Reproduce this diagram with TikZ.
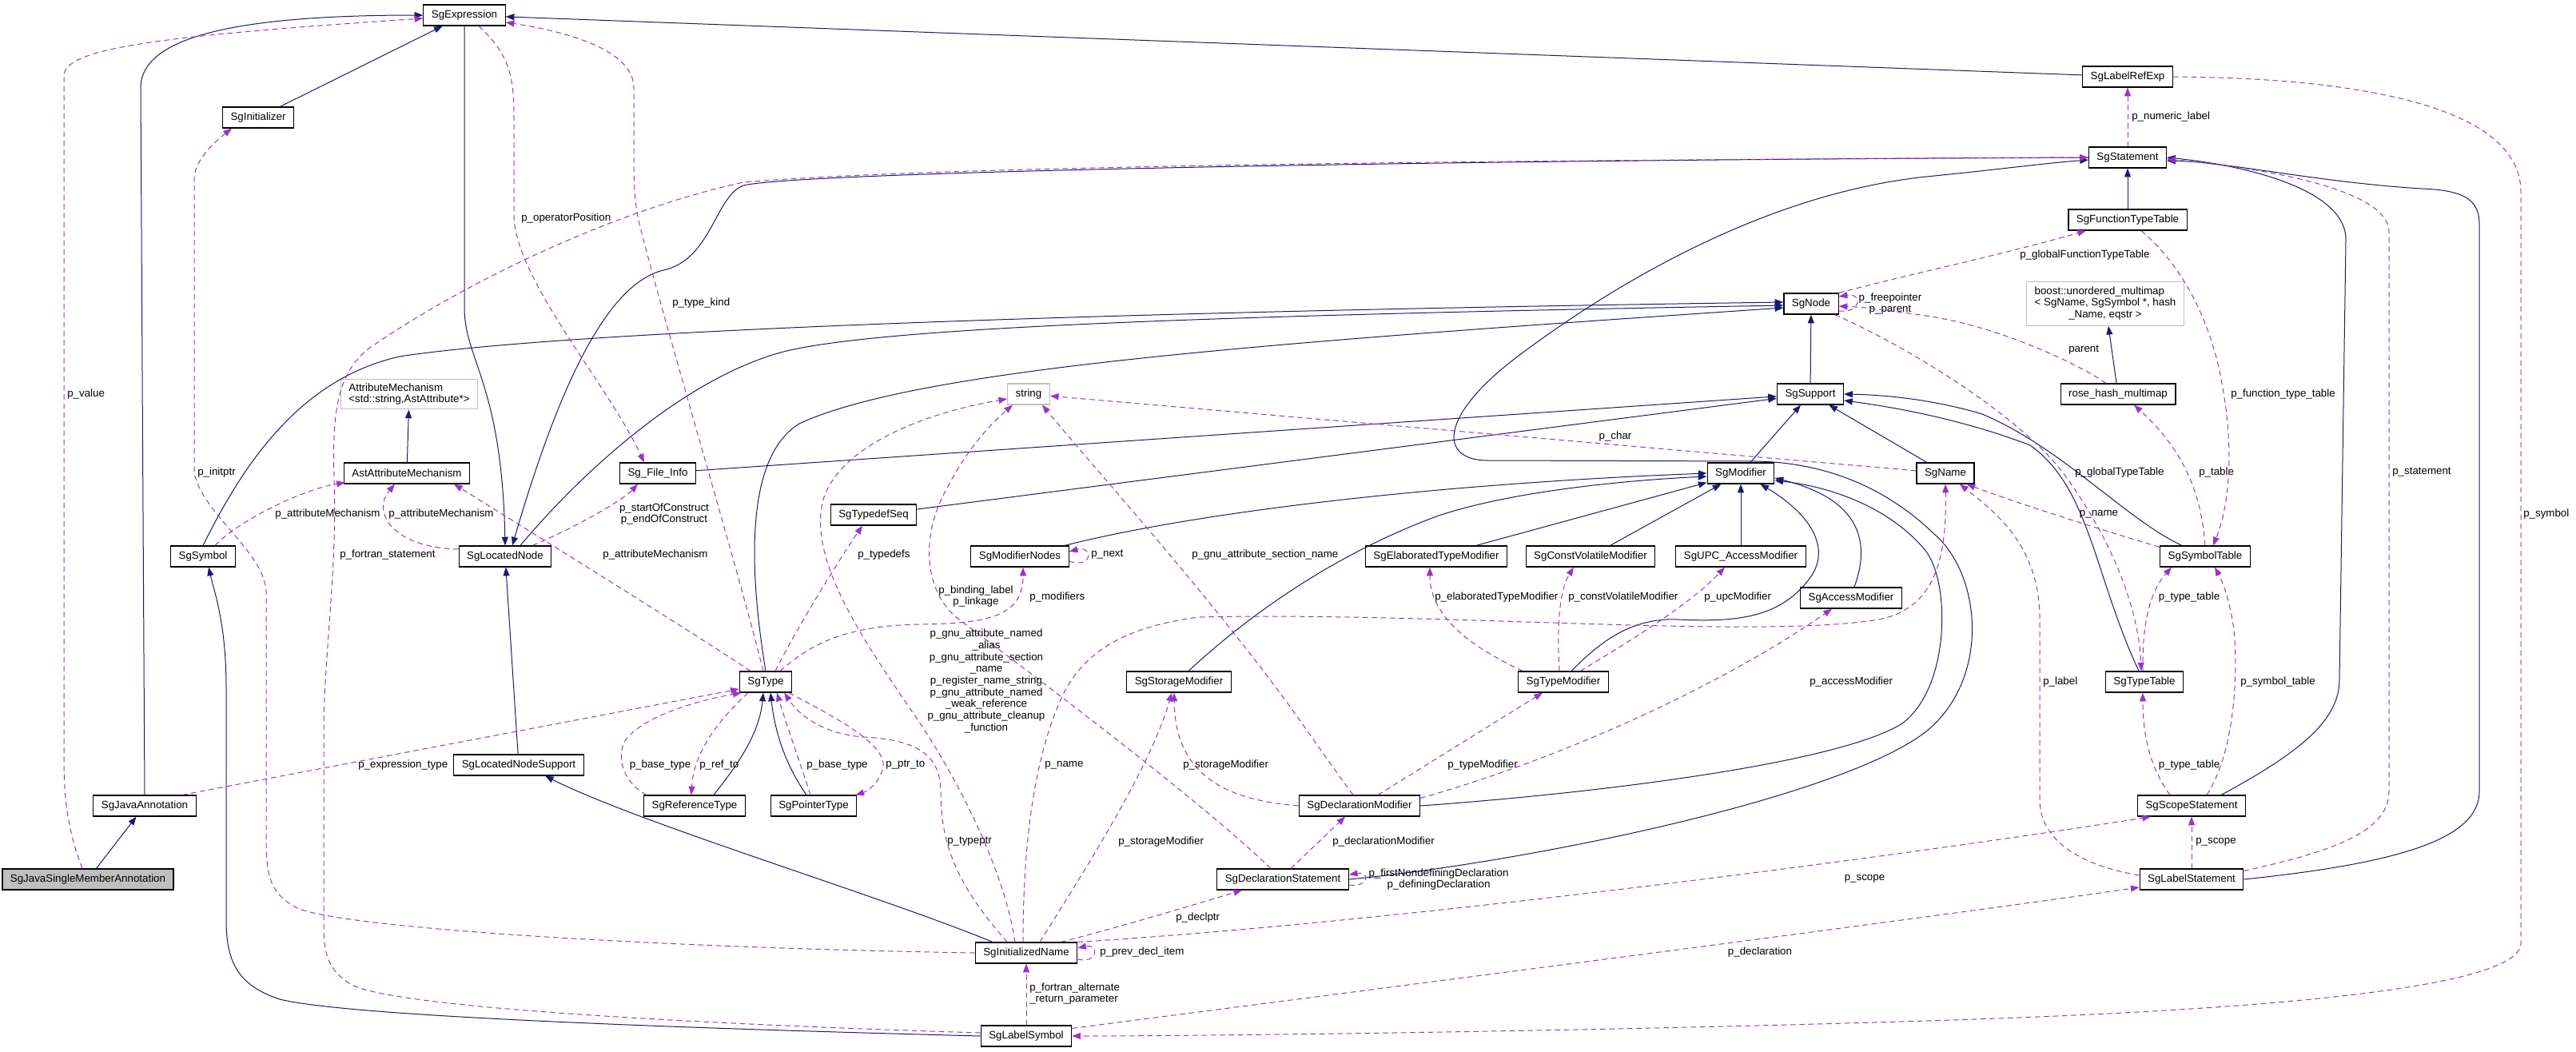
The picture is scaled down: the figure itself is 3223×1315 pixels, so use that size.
\documentclass[tikz,border=0pt]{standalone}
\usepackage{fontspec}
\newfontfamily\sgfont{Liberation Sans}
\newcommand\sgsize{\fontsize{10}{11}\selectfont}
\usetikzlibrary{arrows.meta,calc}
\definecolor{navyedge}{RGB}{25,25,112}
\definecolor{useedge}{RGB}{154,50,205}
\definecolor{extgray}{RGB}{191,191,191}
\tikzset{
  cls/.style={rectangle, draw=black, line width=0.9pt, fill=white, minimum height=19.5pt, inner xsep=7.5pt, inner ysep=1pt, font=\sgfont\sgsize},
  extcls/.style={cls, draw=extgray},
  focuscls/.style={cls, fill=extgray},
  inh/.style={draw=navyedge, line width=0.75pt, -{Triangle[length=8pt,width=6pt]}},
  use/.style={draw=useedge, line width=0.75pt, dash pattern=on 5pt off 3.5pt, -{Triangle[length=8pt,width=6pt]}},
  lbl/.style={font=\sgfont\sgsize, inner sep=0pt, align=center},
}
\begin{document}
\begin{tikzpicture}[y=0.75pt, x=0.75pt, yscale=-1.000000, xscale=1.000000]
\useasboundingbox (0,0) rectangle (3223,1315);
\node[cls] (expr) at (581,19) {SgExpression};
\node[cls] (init) at (323,147) {SgInitializer};
\node[cls] (lref) at (2662,96) {SgLabelRefExp};
\node[cls] (stmt) at (2662,197) {SgStatement};
\node[cls] (ftt) at (2662,275) {SgFunctionTypeTable};
\node[cls] (node) at (2266,380) {SgNode};
\node[extcls, inner ysep=4pt] (boost) at (2634,380) {\begin{tabular}{@{}l@{}}boost::unordered\_multimap\\< SgName, SgSymbol *, hash\\\multicolumn{1}{@{}c@{}}{\_Name, eqstr >}\end{tabular}};
\node[extcls, align=left, inner ysep=4pt] (attrm) at (512,493) {AttributeMechanism\\<std::string,AstAttribute*>};
\node[extcls] (str) at (1287,493) {string};
\node[cls] (supp) at (2265,493) {SgSupport};
\node[cls] (rhm) at (2650,493) {rose\_hash\_multimap};
\node[cls] (aam) at (509,592) {AstAttributeMechanism};
\node[cls] (finfo) at (823,592) {Sg\_File\_Info};
\node[cls] (mod) at (2178,592) {SgModifier};
\node[cls] (name) at (2434,592) {SgName};
\node[cls] (tdseq) at (1093,644) {SgTypedefSeq};
\node[cls] (sym) at (254,696) {SgSymbol};
\node[cls] (lnode) at (632,696) {SgLocatedNode};
\node[cls] (modn) at (1276,696) {SgModifierNodes};
\node[cls] (etm) at (1797,696) {SgElaboratedTypeModifier};
\node[cls] (cvm) at (1990,696) {SgConstVolatileModifier};
\node[cls] (upc) at (2178,696) {SgUPC\_AccessModifier};
\node[cls] (symt) at (2759,696) {SgSymbolTable};
\node[cls] (acc) at (2316,748) {SgAccessModifier};
\node[cls] (type) at (958,853) {SgType};
\node[cls] (stor) at (1475,853) {SgStorageModifier};
\node[cls] (tmod) at (1956,853) {SgTypeModifier};
\node[cls] (typt) at (2683,853) {SgTypeTable};
\node[cls] (lns) at (649,957) {SgLocatedNodeSupport};
\node[cls] (jann) at (181,1008) {SgJavaAnnotation};
\node[cls] (reft) at (869,1008) {SgReferenceType};
\node[cls] (ptrt) at (1018,1008) {SgPointerType};
\node[cls] (dmod) at (1701,1008) {SgDeclarationModifier};
\node[cls] (scope) at (2742,1008) {SgScopeStatement};
\node[focuscls] (jsma) at (110,1100) {SgJavaSingleMemberAnnotation};
\node[cls] (dstmt) at (1605,1100) {SgDeclarationStatement};
\node[cls] (lstmt) at (2742,1100) {SgLabelStatement};
\node[cls] (iname) at (1284,1192) {SgInitializedName};
\node[cls] (lsym) at (1284,1296) {SgLabelSymbol};
\draw[inh] (init) -- (expr);
\draw[inh] (jsma) -- (jann);
\draw[inh] (jann.north) -- (176,110) .. controls (176,45) and (300,19) .. (expr.west);
\draw[inh] (lref) -- (expr);
\draw[inh] (expr.south) -- (581,385) .. controls (581,450) and (628,480) .. (lnode.north);
\draw[inh] (stmt.west) .. controls (1800,200) and (1000,215) .. (930,232) .. controls (895,245) and (890,325) .. (830,338) .. controls (760,355) and (700,480) .. ($(lnode.north)+(9,0)$);
\draw[inh] ($(lnode.north)+(19,0)$) .. controls (720,600) and (850,475) .. (980,440) .. controls (1100,410) and (1500,395) .. ($(node.west)+(0,2)$);
\draw[inh] (sym.north) .. controls (300,590) and (370,475) .. (500,446) .. controls (680,418) and (1250,392) .. ($(node.west)+(0,-2)$);
\draw[inh] (type.north) .. controls (935,700) and (935,570) .. (1000,530) .. controls (1150,460) and (1600,428) .. ($(node.west)+(0,5)$);
\draw[inh] (supp) -- (node);
\draw[inh] (finfo) -- (supp);
\draw[inh] (tdseq) -- (supp);
\draw[inh] (mod) -- (supp);
\draw[inh] (name) -- (supp);
\draw[inh] ($(symt.north)+(-29,0)$) .. controls (2660,650) and (2580,560) .. (2480,518) .. controls (2420,500) and (2360,494) .. (supp.east);
\draw[inh] ($(typt.north)+(-7,0)$) .. controls (2620,720) and (2615,610) .. (2540,557) .. controls (2470,530) and (2390,512) .. ($(supp.east)+(0,8)$);
\draw[inh] ($(modn.north)+(56,0)$) .. controls (1500,640) and (1800,605) .. (mod.west);
\draw[inh] ($(stor.north)+(12,0)$) .. controls (1540,790) and (1650,700) .. (1800,645) .. controls (1900,612) and (2050,600) .. ($(mod.west)+(0,4)$);
\draw[inh] (etm) -- (mod);
\draw[inh] (cvm) -- (mod);
\draw[inh] (upc) -- (mod);
\draw[inh] ($(tmod.north)+(10,0)$) .. controls (2000,805) and (2040,772) .. (2100,775) .. controls (2170,778) and (2230,775) .. (2268,718) .. controls (2290,680) and (2260,640) .. ($(mod.south east)+(-18,0)$);
\draw[inh] ($(acc.north)+(4,0)$) .. controls (2340,680) and (2330,625) .. ($(mod.east)+(0,6)$);
\draw[inh] (dmod.east) .. controls (2000,992) and (2300,955) .. (2380,905) .. controls (2440,860) and (2440,730) .. (2410,690) .. controls (2370,640) and (2300,610) .. ($(mod.east)+(0,9)$);
\draw[inh] (dstmt.east) .. controls (1900,1080) and (2300,1000) .. (2410,915) .. controls (2490,850) and (2480,720) .. (2420,668) .. controls (2370,620) and (2300,580) .. (2200,577) -- (1860,576) .. controls (1800,575) and (1800,520) .. (1900,445) .. controls (2000,370) and (2200,240) .. (2420,220) .. controls (2500,212) and (2560,204) .. ($(stmt.west)+(0,3)$);
\draw[inh] (ftt) -- (stmt);
\draw[inh] ($(scope.north)+(37,0)$) .. controls (2880,940) and (2927,900) .. (2927,850) -- (2935,300) .. controls (2936,240) and (2820,208) .. (stmt.east);
\draw[inh] (lstmt.east) .. controls (3000,1080) and (3102,1050) .. (3102,990) -- (3102,280) .. controls (3102,248) and (3080,238) .. (3030,236) .. controls (2900,228) and (2790,203) .. ($(stmt.east)+(0,4)$);
\draw[inh] (lsym.west) .. controls (1000,1290) and (450,1275) .. (350,1250) .. controls (295,1232) and (283,1200) .. (283,1150) -- (283,860) .. controls (283,780) and (268,740) .. ($(sym.south)+(7,0)$);
\draw[inh] (lns) -- (lnode);
\draw[inh] ($(iname.north)+(-42,0)$) .. controls (1100,1120) and (800,1030) .. ($(lns.south)+(33,0)$);
\draw[inh] (aam) -- (attrm);
\draw[inh] (rhm) -- (boost);
\draw[inh] ($(reft.north)+(24,0)$) .. controls (920,960) and (950,920) .. ($(type.south)+(-3,0)$);
\draw[inh] ($(ptrt.north)+(-9,0)$) .. controls (985,960) and (970,920) .. ($(type.south)+(6,0)$);
\draw[use] ($(jsma.north)+(-7,0)$) .. controls (85,1040) and (80,1000) .. (80,950) -- (80,95) .. controls (80,60) and (200,45) .. ($(expr.west)+(0,4)$);
\node[lbl, anchor=west] (lvalue) at (84,493) {p\_value};
\draw[use] (iname.west) .. controls (800,1185) and (420,1160) .. (370,1135) .. controls (340,1118) and (333,1100) .. (333,1050) -- (333,740) .. controls (331,690) and (250,640) .. (243,590) -- (243,225) .. controls (243,200) and (268,178) .. ($(init.south)+(-33,0)$);
\node[lbl, anchor=west] (linitptr) at (247,591) {p\_initptr};
\draw[use] ($(sym.north)+(15,0)$) .. controls (300,650) and (380,612) .. ($(aam.south west)+(2,-2)$);
\node[lbl] (lattra) at (410,643) {p\_attributeMechanism};
\draw[use] ($(lnode.west)+(0,-9)$) .. controls (490,685) and (465,640) .. ($(aam.south)+(-15,0)$);
\node[lbl] (lattrb) at (552,643) {p\_attributeMechanism};
\draw[use] ($(type.north)+(-19,0)$) .. controls (880,800) and (720,700) .. ($(aam.south)+(59,0)$);
\node[lbl] (lattrc) at (820,694) {p\_attributeMechanism};
\draw[use] ($(lnode.north)+(34,0)$) .. controls (720,660) and (780,625) .. ($(finfo.south)+(-25,0)$);
\node[lbl] (lconstruct) at (831,643) {p\_startOfConstruct\\p\_endOfConstruct};
\draw[use] ($(expr.south)+(18,0)$) .. controls (640,70) and (643,100) .. (643,150) -- (643,270) .. controls (645,350) and (760,480) .. ($(finfo.north)+(-17,0)$);
\node[lbl, anchor=west] (loppos) at (652,273) {p\_operatorPosition};
\draw[use] ($(type.north)+(-3,0)$) .. controls (920,700) and (830,400) .. (800,280) .. controls (794,255) and (793,230) .. (793,200) -- (793,110) .. controls (793,60) and (700,38) .. ($(expr.east)+(0,9)$);
\node[lbl, anchor=west] (ltypekind) at (841,379) {p\_type\_kind};
\draw[use] ($(lsym.west)+(0,-4)$) .. controls (900,1282) and (500,1262) .. (440,1232) .. controls (412,1215) and (405,1195) .. (405,1160) -- (405,900) .. controls (408,800) and (422,700) .. (418,600) .. controls (416,520) and (420,470) .. (460,437) .. controls (570,360) and (760,265) .. (930,228) .. controls (1200,205) and (2000,200) .. (stmt.west);
\node[lbl, anchor=west] (lfortstmt) at (425,694) {p\_fortran\_statement};
\draw[use] ($(type.north)+(12,0)$) .. controls (1000,780) and (1050,700) .. ($(tdseq.south)+(-14,0)$);
\node[lbl, anchor=west] (ltypedefs) at (1073,694) {p\_typedefs};
\draw[use] ($(type.north)+(18,0)$) .. controls (1010,810) and (1050,783) .. (1150,781) .. controls (1240,780) and (1280,770) .. ($(modn.south)+(4,0)$);
\node[lbl, anchor=west] (lmodifiers) at (1288,747) {p\_modifiers};
\draw[use] ($(modn.east)+(0,6)$) .. controls (1368,712) and (1368,682) .. ($(modn.east)+(0,-6)$);
\node[lbl, anchor=west] (lnext) at (1365,694) {p\_next};
\draw[use] ($(dstmt.north)+(-15,0)$) .. controls (1500,1000) and (1300,850) .. (1200,775) .. controls (1160,745) and (1150,680) .. (1180,620) .. controls (1210,560) and (1240,530) .. ($(str.south)+(-20,0)$);
\node[lbl] (lbinding) at (1221,746) {p\_binding\_label\\p\_linkage};
\draw[use] ($(iname.north)+(-14,0)$) .. controls (1255,1080) and (1190,960) .. (1141,890) .. controls (1080,800) and (1010,700) .. (1030,625) .. controls (1050,560) and (1150,518) .. ($(str.west)+(0,6)$);
\node[lbl] (lgnu) at (1234,852) {p\_gnu\_attribute\_named\\\_alias\\p\_gnu\_attribute\_section\\\_name\\p\_register\_name\_string\\p\_gnu\_attribute\_named\\\_weak\_reference\\p\_gnu\_attribute\_cleanup\\\_function};
\draw[use] ($(dmod.north)+(-8,0)$) .. controls (1660,950) and (1630,905) .. (1600,865) .. controls (1500,730) and (1360,575) .. ($(str.south)+(17,0)$);
\node[lbl, anchor=west] (lsection) at (1491,694) {p\_gnu\_attribute\_section\_name};
\draw[use] (name) -- (str);
\node[lbl] (lchar) at (2021,546) {p\_char};
\draw[use] ($(iname.north)+(-4,0)$) .. controls (1280,1050) and (1295,950) .. (1325,880) .. controls (1350,820) and (1400,785) .. (1500,772) .. controls (1800,765) and (2200,800) .. (2350,775) .. controls (2420,762) and (2436,700) .. (name.south);
\node[lbl, anchor=west] (lnamea) at (1307,957) {p\_name};
\draw[use] ($(symt.north west)+(0,2)$) .. controls (2620,660) and (2520,628) .. ($(name.south east)+(-10,0)$);
\node[lbl] (lnameb) at (2626,643) {p\_name};
\draw[use] ($(lstmt.west)+(0,-5)$) .. controls (2600,1082) and (2552,1050) .. (2552,1000) -- (2552,770) .. controls (2550,680) and (2495,640) .. ($(name.south)+(18,0)$);
\node[lbl, anchor=west] (llabel) at (2556,853) {p\_label};
\draw[use] ($(node.south east)+(-5,0)$) .. controls (2400,440) and (2530,525) .. (2580,590) .. controls (2640,670) and (2676,760) .. ($(typt.north)+(-4,0)$);
\node[lbl, anchor=west] (lgtt) at (2596,591) {p\_globalTypeTable};
\draw[use] (node.north east) .. controls (2380,345) and (2500,320) .. ($(ftt.south)+(-52,0)$);
\node[lbl, anchor=west] (lgftt) at (2527,319) {p\_globalFunctionTypeTable};
\draw[use] ($(node.east)+(0,9)$) .. controls (2330,392) and (2330,366) .. ($(node.east)+(0,-9)$);
\node[lbl] (lfree) at (2365,380) {p\_freepointer\\p\_parent};
\draw[use] ($(rhm.north)+(-15,0)$) .. controls (2600,455) and (2500,408) .. (2410,395) .. controls (2360,388) and (2330,384) .. ($(node.east)+(0,3)$);
\node[lbl, anchor=west] (lparent) at (2588,438) {parent};
\draw[use] (symt.north) .. controls (2755,630) and (2740,570) .. ($(rhm.south)+(20,0)$);
\node[lbl, anchor=west] (ltable) at (2751,591) {p\_table};
\draw[use] ($(ftt.south)+(17,0)$) .. controls (2740,340) and (2770,420) .. (2780,480) .. controls (2795,560) and (2790,630) .. ($(symt.north)+(10,0)$);
\node[lbl, anchor=west] (lftt) at (2791,493) {p\_function\_type\_table};
\draw[use] ($(typt.north)+(-2,0)$) .. controls (2680,780) and (2690,740) .. ($(symt.south)+(-42,0)$);
\node[lbl] (ltypta) at (2739,747) {p\_type\_table};
\draw[use] ($(scope.north)+(-27,0)$) .. controls (2690,960) and (2681,920) .. ($(typt.south)+(-2,0)$);
\node[lbl] (ltyptb) at (2739,957) {p\_type\_table};
\draw[use] ($(scope.north)+(19,0)$) .. controls (2790,950) and (2800,870) .. (2796,800) .. controls (2793,760) and (2782,730) .. ($(symt.south)+(12,0)$);
\node[lbl, anchor=west] (lsymt) at (2803,853) {p\_symbol\_table};
\draw[use] ($(lstmt.north east)+(0,3)$) .. controls (2920,1065) and (2989,1040) .. (2989,990) -- (2989,290) .. controls (2989,240) and (2850,212) .. ($(stmt.east)+(0,2)$);
\node[lbl, anchor=west] (lstatement) at (2993,591) {p\_statement};
\draw[use] (lref.east) .. controls (2900,97) and (3154,120) .. (3154,240) -- (3154,1180) .. controls (3154,1230) and (2900,1262) .. (2410,1277) .. controls (2000,1290) and (1500,1296) .. (lsym.east);
\node[lbl, anchor=west] (lsymbol) at (3157,643) {p\_symbol};
\draw[use] ($(lsym.north east)+(0,4)$) .. controls (1700,1240) and (2400,1150) .. ($(lstmt.west)+(0,10)$);
\node[lbl] (ldecl) at (2202,1191) {p\_declaration};
\draw[use] (iname.north east) .. controls (1800,1150) and (2450,1060) .. ($(scope.south west)+(17,0)$);
\node[lbl] (lscopea) at (2333,1099) {p\_scope};
\draw[use] (lstmt) -- (scope);
\node[lbl, anchor=west] (lscopeb) at (2747,1053) {p\_scope};
\draw[use] ($(iname.north)+(43,0)$) .. controls (1400,1160) and (1500,1130) .. ($(dstmt.south)+(-51,0)$);
\node[lbl, anchor=west] (ldeclptr) at (1471,1148) {p\_declptr};
\draw[use] ($(iname.east)+(0,8)$) .. controls (1375,1206) and (1375,1180) .. ($(iname.east)+(0,-6)$);
\node[lbl, anchor=west] (lprev) at (1376,1191) {p\_prev\_decl\_item};
\draw[use] (lsym) -- (iname);
\node[lbl, anchor=west, align=left] (lfortalt) at (1288,1243) {p\_fortran\_alternate\\\_return\_parameter};
\draw[use] ($(dstmt.east)+(0,7)$) .. controls (1714,1110) and (1714,1090) .. ($(dstmt.east)+(0,-6)$);
\node[lbl] (ldefining) at (1800,1100) {p\_firstNondefiningDeclaration\\p\_definingDeclaration};
\draw[use] ($(dstmt.north)+(10,0)$) -- ($(dmod.south)+(-18,0)$);
\node[lbl, anchor=west] (ldeclmod) at (1667,1053) {p\_declarationModifier};
\draw[use] ($(iname.north)+(17,0)$) .. controls (1350,1100) and (1440,960) .. ($(stor.south)+(-9,0)$);
\node[lbl, anchor=west] (lstora) at (1399,1053) {p\_storageModifier};
\draw[use] (dmod.west) .. controls (1520,1000) and (1470,960) .. ($(stor.south)+(-6,0)$);
\node[lbl, anchor=west] (lstorb) at (1480,957) {p\_storageModifier};
\draw[use] ($(dmod.north)+(23,0)$) -- ($(tmod.south)+(-26,0)$);
\node[lbl, anchor=west] (ltypemod) at (1811,957) {p\_typeModifier};
\draw[use] ($(dmod.north east)+(0,4)$) .. controls (1950,950) and (2150,860) .. ($(acc.south)+(-24,0)$);
\node[lbl, anchor=west] (laccess) at (2264,853) {p\_accessModifier};
\draw[use] ($(tmod.north west)+(6,0)$) .. controls (1820,800) and (1789,760) .. ($(etm.south)+(-8,0)$);
\node[lbl, anchor=west] (lelab) at (1795,747) {p\_elaboratedTypeModifier};
\draw[use] ($(tmod.north)+(-5,0)$) .. controls (1948,790) and (1950,740) .. ($(cvm.south)+(-21,0)$);
\node[lbl, anchor=west] (lcv) at (1962,747) {p\_constVolatileModifier};
\draw[use] ($(tmod.north)+(21,0)$) .. controls (2060,790) and (2120,750) .. ($(upc.south)+(-20,0)$);
\node[lbl, anchor=west] (lupc) at (2132,747) {p\_upcModifier};
\draw[use] ($(reft.north west)+(4,0)$) .. controls (790,985) and (770,960) .. (780,930) .. controls (800,895) and (880,875) .. ($(type.south west)+(3,0)$);
\node[lbl] (lbasea) at (826,957) {p\_base\_type};
\draw[use] ($(type.south)+(-22,0)$) .. controls (900,900) and (868,940) .. ($(reft.north)+(-4,0)$);
\node[lbl, anchor=west] (lrefto) at (875,957) {p\_ref\_to};
\draw[use] ($(ptrt.north)+(-4,0)$) .. controls (996,940) and (982,900) .. ($(type.south)+(14,0)$);
\node[lbl, anchor=west] (lbaseb) at (1009,957) {p\_base\_type};
\draw[use] ($(type.south east)+(-4,0)$) .. controls (1040,895) and (1110,930) .. (1105,960) .. controls (1100,980) and (1085,990) .. ($(ptrt.north east)+(-2,0)$);
\node[lbl, anchor=west] (lptrto) at (1108,957) {p\_ptr\_to};
\draw[use] ($(iname.north)+(-24,0)$) .. controls (1200,1110) and (1177,1060) .. (1177,990) .. controls (1177,940) and (1140,925) .. (1080,922) .. controls (1030,918) and (1000,895) .. ($(type.south east)+(-10,0)$);
\node[lbl, anchor=west] (ltypeptr) at (1185,1053) {p\_typeptr};
\draw[use] ($(jann.north east)+(-18,0)$) -- ($(type.west)+(0,9)$);
\node[lbl, anchor=west] (lexprtype) at (448,957) {p\_expression\_type};
\draw[use] (stmt) -- (lref);
\node[lbl, anchor=west] (lnumeric) at (2667,146) {p\_numeric\_label};
\end{tikzpicture}
\end{document}
